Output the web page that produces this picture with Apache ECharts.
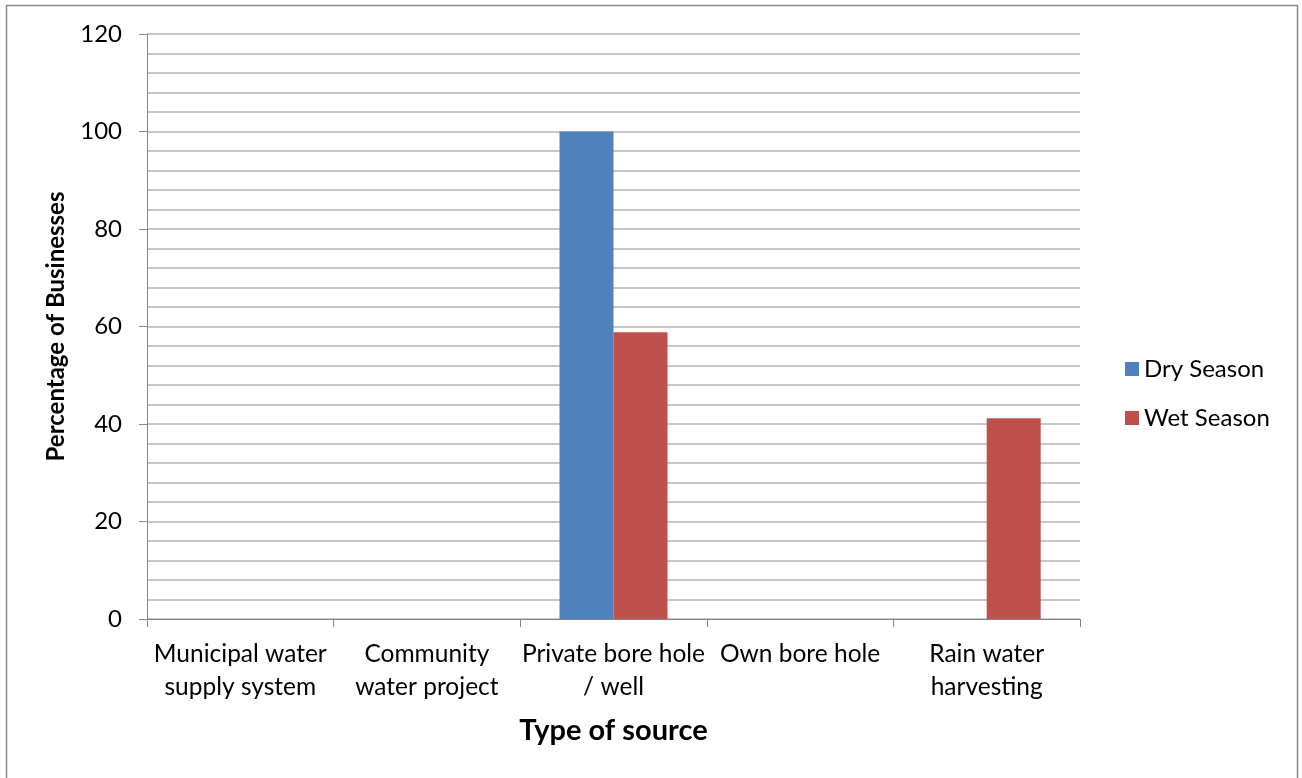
<!DOCTYPE html>
<html>
<head>
<meta charset="utf-8">
<script src="https://cdn.jsdelivr.net/npm/echarts@6/dist/echarts.min.js"></script>
<style>
  html, body { margin: 0; padding: 0; background: #fff; }
  #chart { width: 1302px; height: 778px; }
</style>
</head>
<body>
<div id="chart"></div>
<script>
// Water source used by businesses, by season (% of businesses)
const categories = [
  'Municipal water\nsupply system',
  'Community\nwater project',
  'Private bore hole\n/ well',
  'Own bore hole',
  'Rain water\nharvesting'
];
const drySeason = [0, 0, 100, 0, 0];
const wetSeason = [0, 0, 58.8, 0, 41.2];
const seriesNames = ['Dry Season', 'Wet Season'];

const FONT = 'Lato, "Open Sans", sans-serif';
const chart = echarts.init(document.getElementById('chart'), null, { renderer: 'canvas' });

chart.setOption({
  backgroundColor: '#fff',
  animation: false,
  textStyle: { fontFamily: FONT, color: '#000' },
  graphic: [{
    type: 'rect',
    shape: { x: 6.5, y: 5.5, width: 1291, height: 820 },
    style: { fill: 'none', stroke: '#8c8c8c', lineWidth: 1.5 },
    silent: true
  }],
  grid: { left: 147, right: 222, top: 34, bottom: 159, containLabel: false },
  legend: {
    orient: 'vertical',
    left: 1120,
    top: 352,
    itemWidth: 14,
    itemHeight: 14,
    itemGap: 25,
    icon: 'rect',
    textStyle: { fontFamily: FONT, fontSize: 24, color: '#000', padding: [0, 0, 0, 0] },
    data: seriesNames
  },
  xAxis: {
    type: 'category',
    data: categories,
    name: 'Type of source',
    nameLocation: 'middle',
    nameGap: 97,
    nameTextStyle: { fontFamily: FONT, fontSize: 29, fontWeight: 'bold', color: '#000' },
    axisLine: { lineStyle: { color: '#868686', width: 1 } },
    axisTick: { show: true, length: 8, lineStyle: { color: '#868686' } },
    axisLabel: { fontFamily: FONT, fontSize: 24.5, color: '#000', margin: 19, lineHeight: 33, interval: 0 }
  },
  yAxis: {
    type: 'value',
    min: 0,
    max: 120,
    interval: 20,
    name: 'Percentage of Businesses',
    nameLocation: 'middle',
    nameGap: 79,
    nameTextStyle: { fontFamily: FONT, fontSize: 24, fontWeight: 'bold', color: '#000' },
    axisLine: { show: true, lineStyle: { color: '#868686', width: 1 } },
    axisTick: { show: true, length: 8, lineStyle: { color: '#868686' } },
    axisLabel: { fontFamily: FONT, fontSize: 24, color: '#000', margin: 25 },
    splitLine: { show: true, lineStyle: { color: '#b4b4b4', width: 1.5 } },
    minorTick: { show: false, splitNumber: 5 },
    minorSplitLine: { show: true, lineStyle: { color: '#b4b4b4', width: 1.5 } }
  },
  series: [
    {
      name: seriesNames[0],
      type: 'bar',
      data: drySeason,
      barWidth: 54,
      barGap: '0%',
      itemStyle: { color: '#4f81bd' }
    },
    {
      name: seriesNames[1],
      type: 'bar',
      data: wetSeason,
      barWidth: 54,
      barGap: '0%',
      itemStyle: { color: '#c0504d' }
    }
  ]
});
</script>
</body>
</html>
